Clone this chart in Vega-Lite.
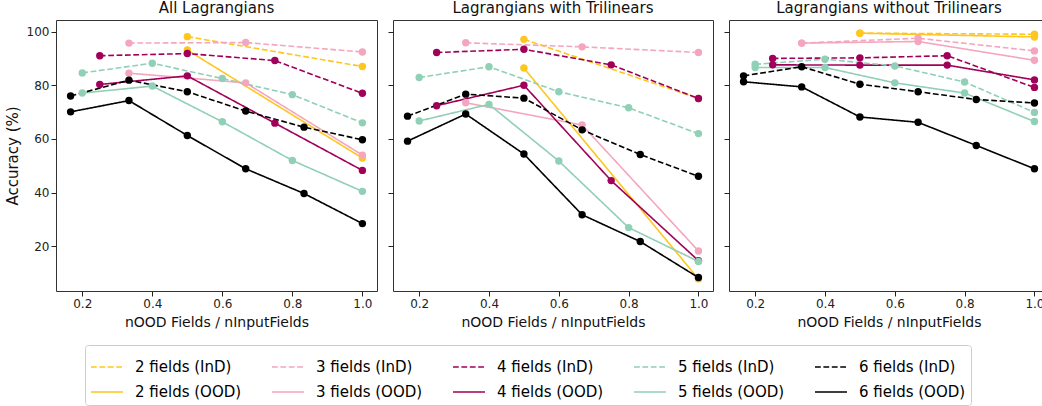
{
  "$schema": "https://vega.github.io/schema/vega-lite/v6.json",
  "padding": {"left": 4, "top": 0, "right": 0, "bottom": 0},
  "background": "white",
  "config": {
    "font": "DejaVu Sans",
    "view": {"stroke": "#333333", "strokeWidth": 1},
    "axis": {"grid": false, "domain": false, "tickColor": "#222222", "tickSize": 5, "labelColor": "#222222", "labelFontSize": 12, "labelFont": "DejaVu Sans", "titleFont": "DejaVu Sans", "titleFontWeight": "normal", "titleColor": "#111111", "titleFontSize": 15},
    "title": {"font": "DejaVu Sans", "fontSize": 15, "fontWeight": "normal", "color": "#111111", "offset": 4},
    "concat": {"spacing": 9}
  },
  "datasets": {
    "d": [
      {"panel": 1, "series": "2 fields (InD)", "ratio": 0.5, "accuracy": 98.1},
      {"panel": 1, "series": "2 fields (InD)", "ratio": 1.0, "accuracy": 87.0},
      {"panel": 1, "series": "2 fields (OOD)", "ratio": 0.5, "accuracy": 93.1},
      {"panel": 1, "series": "2 fields (OOD)", "ratio": 1.0, "accuracy": 52.9},
      {"panel": 1, "series": "3 fields (InD)", "ratio": 0.3333, "accuracy": 95.7},
      {"panel": 1, "series": "3 fields (InD)", "ratio": 0.6667, "accuracy": 95.9},
      {"panel": 1, "series": "3 fields (InD)", "ratio": 1.0, "accuracy": 92.4},
      {"panel": 1, "series": "3 fields (OOD)", "ratio": 0.3333, "accuracy": 84.5},
      {"panel": 1, "series": "3 fields (OOD)", "ratio": 0.6667, "accuracy": 80.9},
      {"panel": 1, "series": "3 fields (OOD)", "ratio": 1.0, "accuracy": 54.0},
      {"panel": 1, "series": "4 fields (InD)", "ratio": 0.25, "accuracy": 91.0},
      {"panel": 1, "series": "4 fields (InD)", "ratio": 0.5, "accuracy": 91.8},
      {"panel": 1, "series": "4 fields (InD)", "ratio": 0.75, "accuracy": 89.2},
      {"panel": 1, "series": "4 fields (InD)", "ratio": 1.0, "accuracy": 77.0},
      {"panel": 1, "series": "4 fields (OOD)", "ratio": 0.25, "accuracy": 80.3},
      {"panel": 1, "series": "4 fields (OOD)", "ratio": 0.5, "accuracy": 83.5},
      {"panel": 1, "series": "4 fields (OOD)", "ratio": 0.75, "accuracy": 65.9},
      {"panel": 1, "series": "4 fields (OOD)", "ratio": 1.0, "accuracy": 48.3},
      {"panel": 1, "series": "5 fields (InD)", "ratio": 0.2, "accuracy": 84.6},
      {"panel": 1, "series": "5 fields (InD)", "ratio": 0.4, "accuracy": 88.2},
      {"panel": 1, "series": "5 fields (InD)", "ratio": 0.6, "accuracy": 82.5},
      {"panel": 1, "series": "5 fields (InD)", "ratio": 0.8, "accuracy": 76.5},
      {"panel": 1, "series": "5 fields (InD)", "ratio": 1.0, "accuracy": 66.0},
      {"panel": 1, "series": "5 fields (OOD)", "ratio": 0.2, "accuracy": 77.1},
      {"panel": 1, "series": "5 fields (OOD)", "ratio": 0.4, "accuracy": 79.7},
      {"panel": 1, "series": "5 fields (OOD)", "ratio": 0.6, "accuracy": 66.4},
      {"panel": 1, "series": "5 fields (OOD)", "ratio": 0.8, "accuracy": 52.0},
      {"panel": 1, "series": "5 fields (OOD)", "ratio": 1.0, "accuracy": 40.5},
      {"panel": 1, "series": "6 fields (InD)", "ratio": 0.1667, "accuracy": 76.0},
      {"panel": 1, "series": "6 fields (InD)", "ratio": 0.3333, "accuracy": 81.9},
      {"panel": 1, "series": "6 fields (InD)", "ratio": 0.5, "accuracy": 77.6},
      {"panel": 1, "series": "6 fields (InD)", "ratio": 0.6667, "accuracy": 70.4},
      {"panel": 1, "series": "6 fields (InD)", "ratio": 0.8333, "accuracy": 64.4},
      {"panel": 1, "series": "6 fields (InD)", "ratio": 1.0, "accuracy": 59.7},
      {"panel": 1, "series": "6 fields (OOD)", "ratio": 0.1667, "accuracy": 70.1},
      {"panel": 1, "series": "6 fields (OOD)", "ratio": 0.3333, "accuracy": 74.3},
      {"panel": 1, "series": "6 fields (OOD)", "ratio": 0.5, "accuracy": 61.3},
      {"panel": 1, "series": "6 fields (OOD)", "ratio": 0.6667, "accuracy": 48.9},
      {"panel": 1, "series": "6 fields (OOD)", "ratio": 0.8333, "accuracy": 39.7},
      {"panel": 1, "series": "6 fields (OOD)", "ratio": 1.0, "accuracy": 28.5},

      {"panel": 2, "series": "2 fields (InD)", "ratio": 0.5, "accuracy": 97.1},
      {"panel": 2, "series": "2 fields (InD)", "ratio": 1.0, "accuracy": 75.1},
      {"panel": 2, "series": "2 fields (OOD)", "ratio": 0.5, "accuracy": 86.4},
      {"panel": 2, "series": "2 fields (OOD)", "ratio": 1.0, "accuracy": 7.9},
      {"panel": 2, "series": "3 fields (InD)", "ratio": 0.3333, "accuracy": 95.8},
      {"panel": 2, "series": "3 fields (InD)", "ratio": 0.6667, "accuracy": 94.3},
      {"panel": 2, "series": "3 fields (InD)", "ratio": 1.0, "accuracy": 92.2},
      {"panel": 2, "series": "3 fields (OOD)", "ratio": 0.3333, "accuracy": 73.5},
      {"panel": 2, "series": "3 fields (OOD)", "ratio": 0.6667, "accuracy": 65.2},
      {"panel": 2, "series": "3 fields (OOD)", "ratio": 1.0, "accuracy": 18.3},
      {"panel": 2, "series": "4 fields (InD)", "ratio": 0.25, "accuracy": 92.2},
      {"panel": 2, "series": "4 fields (InD)", "ratio": 0.5, "accuracy": 93.4},
      {"panel": 2, "series": "4 fields (InD)", "ratio": 0.75, "accuracy": 87.6},
      {"panel": 2, "series": "4 fields (InD)", "ratio": 1.0, "accuracy": 75.1},
      {"panel": 2, "series": "4 fields (OOD)", "ratio": 0.25, "accuracy": 72.4},
      {"panel": 2, "series": "4 fields (OOD)", "ratio": 0.5, "accuracy": 80.0},
      {"panel": 2, "series": "4 fields (OOD)", "ratio": 0.75, "accuracy": 44.5},
      {"panel": 2, "series": "4 fields (OOD)", "ratio": 1.0, "accuracy": 14.7},
      {"panel": 2, "series": "5 fields (InD)", "ratio": 0.2, "accuracy": 82.9},
      {"panel": 2, "series": "5 fields (InD)", "ratio": 0.4, "accuracy": 86.9},
      {"panel": 2, "series": "5 fields (InD)", "ratio": 0.6, "accuracy": 77.6},
      {"panel": 2, "series": "5 fields (InD)", "ratio": 0.8, "accuracy": 71.6},
      {"panel": 2, "series": "5 fields (InD)", "ratio": 1.0, "accuracy": 62.0},
      {"panel": 2, "series": "5 fields (OOD)", "ratio": 0.2, "accuracy": 66.7},
      {"panel": 2, "series": "5 fields (OOD)", "ratio": 0.4, "accuracy": 72.9},
      {"panel": 2, "series": "5 fields (OOD)", "ratio": 0.6, "accuracy": 51.8},
      {"panel": 2, "series": "5 fields (OOD)", "ratio": 0.8, "accuracy": 27.0},
      {"panel": 2, "series": "5 fields (OOD)", "ratio": 1.0, "accuracy": 14.4},
      {"panel": 2, "series": "6 fields (InD)", "ratio": 0.1667, "accuracy": 68.5},
      {"panel": 2, "series": "6 fields (InD)", "ratio": 0.3333, "accuracy": 76.7},
      {"panel": 2, "series": "6 fields (InD)", "ratio": 0.5, "accuracy": 75.2},
      {"panel": 2, "series": "6 fields (InD)", "ratio": 0.6667, "accuracy": 63.4},
      {"panel": 2, "series": "6 fields (InD)", "ratio": 0.8333, "accuracy": 54.2},
      {"panel": 2, "series": "6 fields (InD)", "ratio": 1.0, "accuracy": 46.1},
      {"panel": 2, "series": "6 fields (OOD)", "ratio": 0.1667, "accuracy": 59.2},
      {"panel": 2, "series": "6 fields (OOD)", "ratio": 0.3333, "accuracy": 69.3},
      {"panel": 2, "series": "6 fields (OOD)", "ratio": 0.5, "accuracy": 54.4},
      {"panel": 2, "series": "6 fields (OOD)", "ratio": 0.6667, "accuracy": 31.8},
      {"panel": 2, "series": "6 fields (OOD)", "ratio": 0.8333, "accuracy": 21.8},
      {"panel": 2, "series": "6 fields (OOD)", "ratio": 1.0, "accuracy": 8.4},

      {"panel": 3, "series": "2 fields (InD)", "ratio": 0.5, "accuracy": 99.4},
      {"panel": 3, "series": "2 fields (InD)", "ratio": 1.0, "accuracy": 99.0},
      {"panel": 3, "series": "2 fields (OOD)", "ratio": 0.5, "accuracy": 99.4},
      {"panel": 3, "series": "2 fields (OOD)", "ratio": 1.0, "accuracy": 98.0},
      {"panel": 3, "series": "3 fields (InD)", "ratio": 0.3333, "accuracy": 95.7},
      {"panel": 3, "series": "3 fields (InD)", "ratio": 0.6667, "accuracy": 97.5},
      {"panel": 3, "series": "3 fields (InD)", "ratio": 1.0, "accuracy": 92.8},
      {"panel": 3, "series": "3 fields (OOD)", "ratio": 0.3333, "accuracy": 95.7},
      {"panel": 3, "series": "3 fields (OOD)", "ratio": 0.6667, "accuracy": 96.3},
      {"panel": 3, "series": "3 fields (OOD)", "ratio": 1.0, "accuracy": 89.3},
      {"panel": 3, "series": "4 fields (InD)", "ratio": 0.25, "accuracy": 90.0},
      {"panel": 3, "series": "4 fields (InD)", "ratio": 0.5, "accuracy": 90.2},
      {"panel": 3, "series": "4 fields (InD)", "ratio": 0.75, "accuracy": 91.0},
      {"panel": 3, "series": "4 fields (InD)", "ratio": 1.0, "accuracy": 79.2},
      {"panel": 3, "series": "4 fields (OOD)", "ratio": 0.25, "accuracy": 87.6},
      {"panel": 3, "series": "4 fields (OOD)", "ratio": 0.5, "accuracy": 87.5},
      {"panel": 3, "series": "4 fields (OOD)", "ratio": 0.75, "accuracy": 87.5},
      {"panel": 3, "series": "4 fields (OOD)", "ratio": 1.0, "accuracy": 82.0},
      {"panel": 3, "series": "5 fields (InD)", "ratio": 0.2, "accuracy": 87.8},
      {"panel": 3, "series": "5 fields (InD)", "ratio": 0.4, "accuracy": 89.7},
      {"panel": 3, "series": "5 fields (InD)", "ratio": 0.6, "accuracy": 87.2},
      {"panel": 3, "series": "5 fields (InD)", "ratio": 0.8, "accuracy": 81.2},
      {"panel": 3, "series": "5 fields (InD)", "ratio": 1.0, "accuracy": 69.9},
      {"panel": 3, "series": "5 fields (OOD)", "ratio": 0.2, "accuracy": 86.6},
      {"panel": 3, "series": "5 fields (OOD)", "ratio": 0.4, "accuracy": 86.6},
      {"panel": 3, "series": "5 fields (OOD)", "ratio": 0.6, "accuracy": 80.9},
      {"panel": 3, "series": "5 fields (OOD)", "ratio": 0.8, "accuracy": 77.1},
      {"panel": 3, "series": "5 fields (OOD)", "ratio": 1.0, "accuracy": 66.5},
      {"panel": 3, "series": "6 fields (InD)", "ratio": 0.1667, "accuracy": 83.5},
      {"panel": 3, "series": "6 fields (InD)", "ratio": 0.3333, "accuracy": 86.9},
      {"panel": 3, "series": "6 fields (InD)", "ratio": 0.5, "accuracy": 80.4},
      {"panel": 3, "series": "6 fields (InD)", "ratio": 0.6667, "accuracy": 77.6},
      {"panel": 3, "series": "6 fields (InD)", "ratio": 0.8333, "accuracy": 74.7},
      {"panel": 3, "series": "6 fields (InD)", "ratio": 1.0, "accuracy": 73.4},
      {"panel": 3, "series": "6 fields (OOD)", "ratio": 0.1667, "accuracy": 81.3},
      {"panel": 3, "series": "6 fields (OOD)", "ratio": 0.3333, "accuracy": 79.4},
      {"panel": 3, "series": "6 fields (OOD)", "ratio": 0.5, "accuracy": 68.2},
      {"panel": 3, "series": "6 fields (OOD)", "ratio": 0.6667, "accuracy": 66.2},
      {"panel": 3, "series": "6 fields (OOD)", "ratio": 0.8333, "accuracy": 57.6},
      {"panel": 3, "series": "6 fields (OOD)", "ratio": 1.0, "accuracy": 48.9}
    ]
  },
  "resolve": {"scale": {"color": "shared", "strokeDash": "shared", "fill": "shared"}, "legend": {"color": "shared", "strokeDash": "shared"}},
  "hconcat": [
    {
      "title": "All Lagrangians",
      "width": 321, "height": 271,
      "data": {"name": "d"},
      "transform": [{"filter": "datum.panel == 1"}],
      "encoding": {
        "x": {"field": "ratio", "type": "quantitative", "scale": {"domain": [0.125, 1.0417], "nice": false, "zero": false}, "axis": {"values": [0.2, 0.4, 0.6, 0.8, 1.0], "format": ".1f", "title": "nOOD Fields / nInputFields", "titleFontSize": 14, "titlePadding": 6}},
        "y": {"field": "accuracy", "type": "quantitative", "scale": {"domain": [3.4, 104.3], "nice": false, "zero": false}, "axis": {"values": [20, 40, 60, 80, 100], "title": "Accuracy (%)", "titlePadding": 6}}
      },
      "layer": [
        {"mark": {"type": "line", "strokeWidth": 1.6}, "encoding": {
          "color": {"field": "series", "type": "nominal", "scale": {"domain": ["2 fields (InD)", "3 fields (InD)", "4 fields (InD)", "5 fields (InD)", "6 fields (InD)", "2 fields (OOD)", "3 fields (OOD)", "4 fields (OOD)", "5 fields (OOD)", "6 fields (OOD)"], "range": ["#FFC61E", "#F4A6BF", "#A0005A", "#90D0B6", "#000000", "#FFC61E", "#F4A6BF", "#A0005A", "#90D0B6", "#000000"]},
            "legend": {"title": null, "orient": "none", "legendX": 29, "legendY": 325, "direction": "horizontal", "columns": 5, "symbolType": "stroke", "symbolSize": 1024, "symbolStrokeWidth": 1.6, "labelFontSize": 15, "labelFont": "DejaVu Sans", "labelColor": "#000000", "labelLimit": 300, "columnPadding": 26, "rowPadding": -3, "padding": 5, "strokeColor": "#cccccc", "fillColor": "white", "cornerRadius": 3, "labelOffset": 11}},
          "strokeDash": {"field": "series", "type": "nominal", "scale": {"domain": ["2 fields (InD)", "3 fields (InD)", "4 fields (InD)", "5 fields (InD)", "6 fields (InD)", "2 fields (OOD)", "3 fields (OOD)", "4 fields (OOD)", "5 fields (OOD)", "6 fields (OOD)"], "range": [[5.8, 2.6], [5.8, 2.6], [5.8, 2.6], [5.8, 2.6], [5.8, 2.6], [1, 0], [1, 0], [1, 0], [1, 0], [1, 0]]},
            "legend": {"title": null, "orient": "none", "legendX": 29, "legendY": 325, "direction": "horizontal", "columns": 5, "symbolType": "stroke", "symbolSize": 1024, "symbolStrokeWidth": 1.6, "labelFontSize": 15, "labelFont": "DejaVu Sans", "labelColor": "#000000", "labelLimit": 300, "columnPadding": 26, "rowPadding": -3, "padding": 5, "strokeColor": "#cccccc", "fillColor": "white", "cornerRadius": 3, "labelOffset": 11}}
        }},
        {"mark": {"type": "point", "filled": true, "size": 55, "opacity": 1}, "encoding": {
          "fill": {"field": "series", "type": "nominal", "scale": {"domain": ["2 fields (InD)", "3 fields (InD)", "4 fields (InD)", "5 fields (InD)", "6 fields (InD)", "2 fields (OOD)", "3 fields (OOD)", "4 fields (OOD)", "5 fields (OOD)", "6 fields (OOD)"], "range": ["#FFC61E", "#F4A6BF", "#A0005A", "#90D0B6", "#000000", "#FFC61E", "#F4A6BF", "#A0005A", "#90D0B6", "#000000"]}, "legend": null}
        }}
      ]
    },
    {
      "title": "Lagrangians with Trilinears",
      "width": 320, "height": 271,
      "data": {"name": "d"},
      "transform": [{"filter": "datum.panel == 2"}],
      "encoding": {
        "x": {"field": "ratio", "type": "quantitative", "scale": {"domain": [0.125, 1.0417], "nice": false, "zero": false}, "axis": {"values": [0.2, 0.4, 0.6, 0.8, 1.0], "format": ".1f", "title": "nOOD Fields / nInputFields", "titleFontSize": 14, "titlePadding": 6}},
        "y": {"field": "accuracy", "type": "quantitative", "scale": {"domain": [3.4, 104.3], "nice": false, "zero": false}, "axis": {"values": [20, 40, 60, 80, 100], "labels": false, "title": null}}
      },
      "layer": [
        {"mark": {"type": "line", "strokeWidth": 1.6}, "encoding": {
          "color": {"field": "series", "type": "nominal"},
          "strokeDash": {"field": "series", "type": "nominal"}
        }},
        {"mark": {"type": "point", "filled": true, "size": 55, "opacity": 1}, "encoding": {
          "fill": {"field": "series", "type": "nominal", "legend": null}
        }}
      ]
    },
    {
      "title": "Lagrangians without Trilinears",
      "width": 320, "height": 271,
      "data": {"name": "d"},
      "transform": [{"filter": "datum.panel == 3"}],
      "encoding": {
        "x": {"field": "ratio", "type": "quantitative", "scale": {"domain": [0.125, 1.0417], "nice": false, "zero": false}, "axis": {"values": [0.2, 0.4, 0.6, 0.8, 1.0], "format": ".1f", "title": "nOOD Fields / nInputFields", "titleFontSize": 14, "titlePadding": 6}},
        "y": {"field": "accuracy", "type": "quantitative", "scale": {"domain": [3.4, 104.3], "nice": false, "zero": false}, "axis": {"values": [20, 40, 60, 80, 100], "labels": false, "title": null}}
      },
      "layer": [
        {"mark": {"type": "line", "strokeWidth": 1.6}, "encoding": {
          "color": {"field": "series", "type": "nominal"},
          "strokeDash": {"field": "series", "type": "nominal"}
        }},
        {"mark": {"type": "point", "filled": true, "size": 55, "opacity": 1}, "encoding": {
          "fill": {"field": "series", "type": "nominal", "legend": null}
        }}
      ]
    }
  ]
}
